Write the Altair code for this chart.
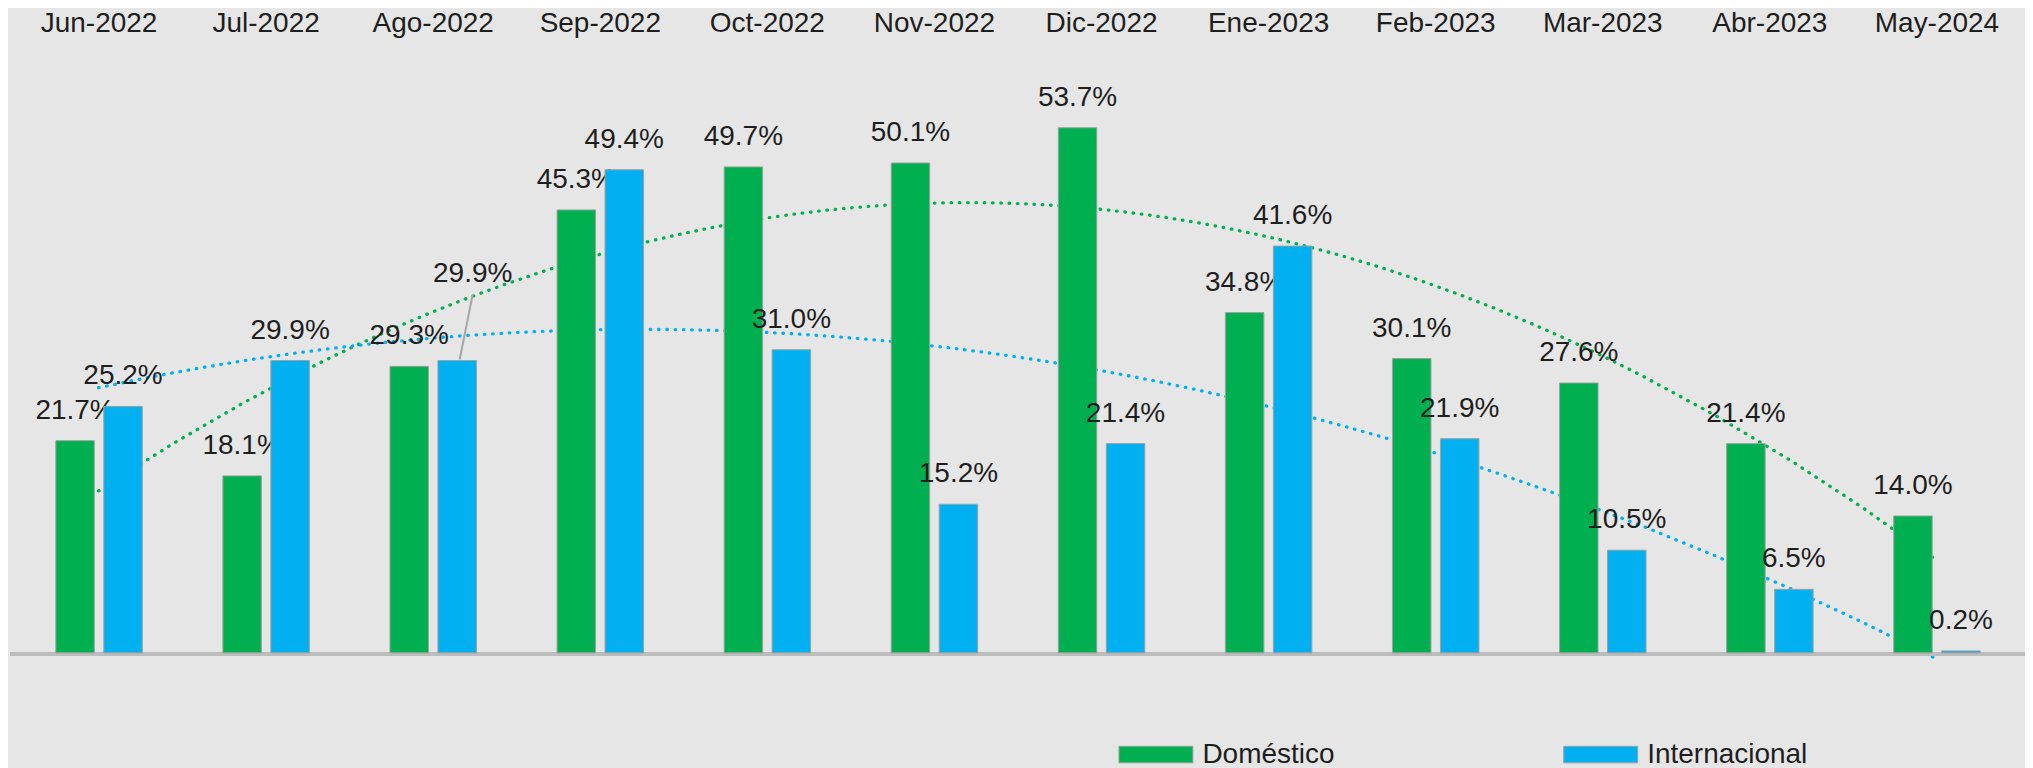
import json
import altair as alt
import pandas as pd

categories = ["Jun-2022", "Jul-2022", "Ago-2022", "Sep-2022", "Oct-2022", "Nov-2022",
              "Dic-2022", "Ene-2023", "Feb-2023", "Mar-2023", "Abr-2023", "May-2024"]
domestico = [21.7, 18.1, 29.3, 45.3, 49.7, 50.1, 53.7, 34.8, 30.1, 27.6, 21.4, 14.0]
internacional = [25.2, 29.9, 29.9, 49.4, 31.0, 15.2, 21.4, 41.6, 21.9, 10.5, 6.5, 0.2]
series_names = ["Doméstico", "Internacional"]
series_colors = ["#00B050", "#00B0F0"]
series_shift = [-23.5, 24.5]
moved_label = ("Ago-2022", "Internacional")

rows = []
for i, c in enumerate(categories):
    for s, vals in zip(series_names, [domestico, internacional]):
        rows.append({"cat": c, "idx": i + 1, "series": s, "value": vals[i],
                     "moved": (c, s) == moved_label})
df = pd.DataFrame(rows)

FONT = "Liberation Sans"
TXT = "#1e1e1e"

yscale = alt.Scale(domain=[0, 60], nice=False, zero=True)
xscale = alt.Scale(domain=[0.5, len(categories) + 0.5], nice=False, zero=False)
label_expr = json.dumps(categories) + "[datum.value - 1]"
xaxis = alt.Axis(orient="top", title=None, labelAngle=0, domain=False, ticks=False,
                 grid=False, values=list(range(1, len(categories) + 1)),
                 labelExpr=label_expr, labelFont=FONT, labelFontSize=28,
                 labelColor=TXT, labelPadding=34.3, labelBaseline="alphabetic",
                 labelFlush=False, labelOverlap=False)
color_scale = alt.Scale(domain=series_names, range=series_colors)
X = alt.X("idx:Q", scale=xscale, axis=xaxis)
Y = alt.Y("value:Q", scale=yscale, axis=None)

base = alt.Chart(df)

legend = alt.Legend(title=None, orient="none", legendX=1109, legendY=651,
                    direction="horizontal", symbolType="M-1,-0.224H1V0.224H-1Z",
                    symbolSize=5476, symbolStrokeColor="#a0a0a0",
                    symbolStrokeWidth=1, symbolOpacity=1,
                    labelFont=FONT, labelFontSize=28, labelColor=TXT, labelLimit=400,
                    labelOffset=9, columnPadding=226, padding=0)

# polynomial (order 2) trend lines, drawn behind the bars
layers = []
for s, col in zip(series_names, series_colors):
    layers.append(base.transform_filter(alt.datum.series == s).transform_regression(
        "idx", "value", method="poly", order=2
    ).mark_line(color=col, strokeWidth=3.3, strokeDash=[0.5, 7.8],
                strokeCap="round").encode(x=X, y=Y))

layers.append(base.mark_rule(color="#bdbdbd", strokeWidth=3, yOffset=1.5).encode(
    y=alt.YDatum(0, scale=yscale, axis=None)
))

for s, shift in zip(series_names, series_shift):
    sub = base.transform_filter(alt.datum.series == s)
    layers.append(sub.mark_bar(width=38.5, xOffset=shift, stroke="#a0a0a0",
                               strokeWidth=1).encode(
        x=X, y=Y, fill=alt.Fill("series:N", scale=color_scale, legend=legend)))
    layers.append(sub.transform_filter("!datum.moved").transform_calculate(
        lbl="format(datum.value, '.1f') + '%'"
    ).mark_text(font=FONT, fontSize=28, color=TXT, dx=shift, dy=-22,
                baseline="alphabetic", align="center").encode(x=X, y=Y, text="lbl:N"))
    layers.append(sub.transform_filter("datum.moved").transform_calculate(
        lbl="format(datum.value, '.1f') + '%'"
    ).mark_text(font=FONT, fontSize=28, color=TXT, dx=shift + 15.5, dy=-78.5,
                baseline="alphabetic", align="center").encode(x=X, y=Y, text="lbl:N"))
    layers.append(sub.transform_filter("datum.moved").mark_rule(
        color="#a6a6a6", strokeWidth=2, xOffset=shift + 2.5, x2Offset=shift + 15.5,
        yOffset=-1, y2Offset=-66
    ).encode(x=X, x2="idx:Q", y=Y, y2="value:Q"))

chart = alt.layer(*layers).properties(
    width=2016, height=587,
    padding={"left": 2, "top": 58, "right": 0, "bottom": 115},
    autosize=alt.AutoSizeParams(type="none"),
    background="#e6e6e6",
).configure_view(stroke=None)

chart.save("out.html", embed_options={"renderer": "svg", "actions": False})
